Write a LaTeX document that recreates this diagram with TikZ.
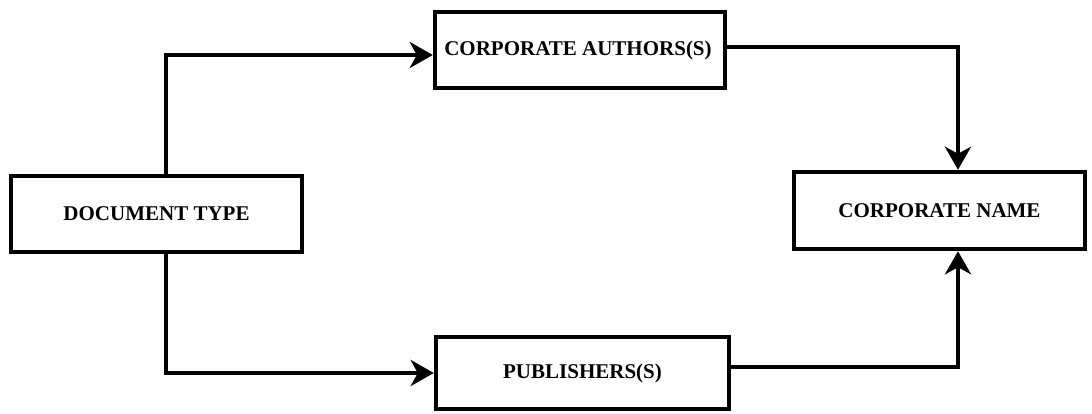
\documentclass[tikz,border=0pt]{standalone}
\usepackage{fontspec}
\setmainfont{Liberation Serif}
\usetikzlibrary{arrows.meta,calc}
\tikzset{
  box/.style={draw=black, line width=4.5pt, rectangle, inner sep=0pt,
    font=\fontsize{21}{23}\selectfont\bfseries},
  conn/.style={draw=black, line width=4pt,
    -{Stealth[length=23pt,width=26pt,inset=7pt]}}
}
\begin{document}
\begin{tikzpicture}[x=1pt,y=-1pt]
\useasboundingbox[fill=white] (0,0) rectangle (1092,413);
\node[box, minimum width=291pt, minimum height=76pt] (doc) at (156.5,214) {DOCUMENT TYPE};
\node[box, minimum width=290pt, minimum height=76pt] (auth) at (580,50) {\hspace*{-4pt}CORPORATE AUTHORS(S)};
\node[box, minimum width=293pt, minimum height=72pt] (pub) at (582.5,373) {PUBLISHERS(S)};
\node[box, minimum width=291pt, minimum height=77pt] (name) at (939.5,210.5) {CORPORATE NAME};
\coordinate (t1) at (166,55);
\coordinate (t2) at (166,373);
\coordinate (c1) at (958,47);
\coordinate (c2) at (958,367);
\draw[conn] (doc.north -| t1) |- (auth.west |- t1);
\draw[conn] (doc.south -| t2) |- (pub.west);
\draw[conn] (auth.east |- c1) -| (name.north -| c1);
\draw[conn] (pub.east |- c2) -| (name.south -| c2);
\end{tikzpicture}
\end{document}
